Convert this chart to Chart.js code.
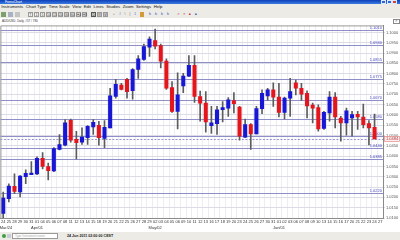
<!DOCTYPE html>
<html>
<head>
<meta charset="utf-8">
<title>AUD/USD Daily</title>
<script src="https://cdn.jsdelivr.net/npm/chart.js@4.4.1/dist/chart.umd.min.js"></script>
<style>
  html, body { margin: 0; padding: 0; }
  body { width: 400px; height: 240px; overflow: hidden; position: relative; background: #ecebe6; font-family: "Liberation Sans", Arial, sans-serif; }
  .row { position: absolute; left: 0; width: 400px; white-space: nowrap; }
  #title { top: 0; height: 4px; background: linear-gradient(#0b3fb8, #3d7be2); color: #fff; font-size: 3.4px; line-height: 4px; }
  #title span { margin-left: 5px; }
  .win { position: absolute; top: 0.4px; width: 5px; height: 3.2px; border: 0.4px solid #dfe8ff; box-sizing: border-box; background: #2f66d0; }
  #menu { top: 4px; height: 6px; font-size: 4.2px; line-height: 6px; color: #111; }
  #menu span { margin: 0 1.3px; }
  #tools { top: 10px; height: 8px; border-bottom: 0.5px solid #c8c8c0; }
  #tools i, #tools b { position: absolute; top: 1.5px; height: 5px; box-sizing: border-box; font-style: normal; font-weight: normal; font-size: 3px; line-height: 5px; text-align: center; color: #222; }
  #tools b { width: 5px; border: 0.4px solid #9a9a9a; background: #f4f4f0; }
  #tools b.on { border-color: #555; background: #d6d6d0; }
  #panel { position: absolute; left: 0; top: 18px; width: 400px; height: 214px; background: #fff; }
  #info { position: absolute; left: 2px; top: 0.5px; font-size: 3px; color: #333; }
  #closebox { position: absolute; left: 393px; top: 0.5px; width: 5px; height: 3.5px; border: 0.4px solid #888; font-size: 3px; line-height: 3.5px; text-align: center; color: #555; }
  #wrap { position: absolute; left: 0; top: 4px; width: 400px; height: 211px; }
  #status { top: 232px; height: 8px; background: #ecebe6; font-size: 3.6px; line-height: 8px; }
  #dot { position: absolute; left: 1.5px; top: 2px; width: 4px; height: 4px; border-radius: 50%; background: #3aa040; }
  #ico { position: absolute; left: 7px; top: 2px; width: 4px; height: 4px; background: #c8ccd8; }
  #search { position: absolute; left: 12px; top: 1.2px; width: 46px; height: 5.6px; background: #fff; border: 0.4px solid #9a9a9a; box-sizing: border-box; color: #aaa; font-size: 3px; line-height: 5px; padding-left: 2px; }
  #when { position: absolute; left: 67px; top: 0; color: #222; font-weight: bold; }
</style>
</head>
<body>
<div id="title" class="row"><span>ForexChart</span>
  <div class="win" style="left:381px"></div><div class="win" style="left:386.5px"></div><div class="win" style="left:392px;background:#d8452c"></div>
</div>
<div id="menu" class="row">
  <span>Instruments</span><span>Chart Type</span><span>Time Scale</span><span>View</span><span>Edit</span><span>Lines</span><span>Studies</span><span>Zoom</span><span>Settings</span><span>Help</span>
</div>
<div id="tools" class="row">
  <i style="left:1px;width:5px;background:#7da06a"></i>
  <i style="left:8px;width:5px;background:#a8b2c2"></i>
  <i style="left:15px;width:5px;background:#c4c4c4"></i>
  <b style="left:28px">T</b><b style="left:34px">1</b><b style="left:40px">5</b><b style="left:46px">10</b>
  <b style="left:52px">15</b><b style="left:58px">20</b><b style="left:64px">30</b><b style="left:70px">60</b>
  <b style="left:76px">H4</b><b style="left:82px">H8</b><b class="on" style="left:91px">D</b><b style="left:97px">W</b><b style="left:103px">M</b>
  <i style="left:112px;width:4px;color:#555">+</i>
  <i style="left:118px;width:4px;color:#2a50c0">#</i>
  <i style="left:123px;width:4px;color:#444">\</i>
  <i style="left:128px;width:4px;color:#444">|</i>
  <i style="left:133px;width:4px;color:#2a50c0">1</i>
  <i style="left:140px;width:4px;background:#d29a3a"></i>
  <i style="left:148px;width:4px;color:#2a50c0">&#x42C;</i>
  <i style="left:154px;width:4px;color:#2a50c0">&#x42C;</i>
  <i style="left:160px;width:4px;color:#2a50c0">&#x42C;</i>
  <i style="left:166px;width:4px;color:#2a50c0">&#x42C;</i>
  <i style="left:176px;width:4px;color:#c02020">&#x2197;</i>
  <i style="left:182px;width:4px;color:#c02020">&#x2715;</i>
  <i style="left:188px;width:4px;color:#c02020">&#x25A0;</i>
  <i style="left:194px;width:4px;color:#2a50c0">&#x25A0;</i>
</div>
<div id="panel">
  <div id="info">AUD/USD, Daily, #57 / 780</div>
  <div id="closebox">&#x2715;</div>
  <div id="wrap"><canvas id="chart" width="400" height="211"></canvas></div>
</div>
<div id="status" class="row">
  <div id="dot"></div><div id="ico"></div>
  <div id="search">Type Instrument name</div>
  <div id="when">24 Jun 2011 02:00:00 CEST</div>
</div>

<script>
// AUD/USD daily candles, 24 Mar - 24 Jun 2011 (last slot is the empty next day)
const dateLabels = ['24','25','28','29','30','31','01','04','05','06','07','08','11','12','13','14','15','18','19','20','21','22','25','26','27','28','29',
  '02','03','04','05','06','09','10','11','12','13','16','17','18','19','20','23','24','25','26','27','30','31',
  '01','02','03','06','07','08','09','10','13','14','15','16','17','20','21','22','23','24','27'];
const monthLabels = ['Mar/24', 'Apr/01', 'May/02', 'Jun/01'];
const monthIndex = [0, 6, 27, 49];

const opens = [1.0122,1.0194,1.0253,1.0226,1.0301,1.0310,1.0314,1.0389,1.0349,1.0328,
  1.0433,1.0453,1.0574,1.0481,1.0468,1.0489,1.0542,1.0550,1.0486,1.0537,
  1.0689,1.0745,1.0772,1.0717,1.0820,1.0869,1.0928,1.0960,1.0936,1.0861,
  1.0733,1.0617,1.0740,1.0788,1.0840,1.0689,1.0657,1.0548,1.0558,1.0625,
  1.0633,1.0670,1.0638,1.0492,1.0553,1.0508,1.0630,1.0692,1.0721,1.0686,
  1.0612,1.0681,1.0756,1.0729,1.0705,1.0647,1.0636,1.0534,1.0609,1.0686,
  1.0585,1.0561,1.0585,1.0603,1.0590,1.0558,1.0540];
const highs = [1.0226,1.0266,1.0314,1.0306,1.0334,1.0373,1.0397,1.0417,1.0366,1.0441,
  1.0505,1.0577,1.0580,1.0520,1.0537,1.0548,1.0577,1.0569,1.0572,1.0729,
  1.0772,1.0753,1.0777,1.0824,1.0888,1.0944,1.0979,1.1016,1.0944,1.0872,
  1.0761,1.0804,1.0801,1.0888,1.0888,1.0716,1.0713,1.0641,1.0641,1.0665,
  1.0684,1.0708,1.0641,1.0580,1.0558,1.0641,1.0721,1.0729,1.0756,1.0753,
  1.0686,1.0777,1.0769,1.0753,1.0717,1.0657,1.0649,1.0617,1.0713,1.0708,
  1.0593,1.0633,1.0617,1.0617,1.0652,1.0572,1.0604];
const lows = [1.0101,1.0178,1.0218,1.0202,1.0266,1.0310,1.0310,1.0338,1.0285,1.0325,
  1.0430,1.0449,1.0468,1.0386,1.0457,1.0457,1.0505,1.0453,1.0441,1.0537,
  1.0681,1.0721,1.0681,1.0676,1.0777,1.0864,1.0884,1.0920,1.0828,1.0724,
  1.0612,1.0532,1.0708,1.0785,1.0660,1.0569,1.0516,1.0510,1.0505,1.0566,
  1.0593,1.0609,1.0478,1.0489,1.0433,1.0508,1.0606,1.0670,1.0641,1.0590,
  1.0580,1.0593,1.0697,1.0670,1.0585,1.0561,1.0521,1.0529,1.0569,1.0537,
  1.0473,1.0502,1.0497,1.0529,1.0537,1.0454,1.0484];
const closes = [1.0197,1.0255,1.0229,1.0303,1.0317,1.0314,1.0389,1.0350,1.0330,1.0437,
  1.0456,1.0561,1.0478,1.0465,1.0492,1.0545,1.0564,1.0489,1.0540,1.0692,
  1.0748,1.0724,1.0713,1.0820,1.0872,1.0931,1.0968,1.0933,1.0861,1.0729,
  1.0617,1.0697,1.0788,1.0840,1.0689,1.0657,1.0566,1.0561,1.0625,1.0636,
  1.0673,1.0654,1.0497,1.0553,1.0508,1.0631,1.0705,1.0721,1.0686,1.0612,
  1.0682,1.0713,1.0729,1.0701,1.0644,1.0633,1.0532,1.0612,1.0686,1.0590,
  1.0561,1.0620,1.0601,1.0590,1.0553,1.0537,1.0484];

// horizontal support / resistance lines drawn on the chart
const levelLines = [1.1010, 1.0940, 1.0855, 1.0775, 1.0670, 1.0580, 1.0500, 1.0440, 1.0385, 1.0220];
// price axis ticks
const priceTicks = [1.0100,1.0150,1.0200,1.0250,1.0300,1.0350,1.0400,1.0450,1.0500,1.0550,
  1.0600,1.0650,1.0700,1.0750,1.0800,1.0850,1.0900,1.0950,1.1000];

const UP = '#1717d4';
const DOWN = '#e3151d';
const FONT = '"Liberation Sans", Arial, sans-serif';

const bodies = opens.map((o, i) => [o, closes[i]]);
const wicks = lows.map((l, i) => [l, highs[i]]);
const bodyColors = opens.map((o, i) => closes[i] >= o ? UP : DOWN);

// level lines, last price line, frame and month captions
const overlay = {
    id: 'overlay',
    beforeDatasetsDraw(chart) {
        const { ctx, chartArea: a, scales: { y } } = chart;
        ctx.save();
        ctx.font = '4px ' + FONT;
        ctx.textAlign = 'right';
        ctx.textBaseline = 'bottom';
        levelLines.forEach(v => {
            const py = Math.round(y.getPixelForValue(v)) + 0.5;
            ctx.strokeStyle = '#8e8ec8';
            ctx.lineWidth = 1.2;
            ctx.beginPath();
            ctx.moveTo(a.left, py);
            ctx.lineTo(a.right, py);
            ctx.stroke();
            ctx.fillStyle = '#4848c0';
            ctx.fillText(v.toFixed(4), a.right - 1, py - 0.6);
        });
        const ly = Math.round(y.getPixelForValue(closes[closes.length - 1])) + 0.5;
        ctx.setLineDash([2, 1.5]);
        ctx.strokeStyle = '#7c7cc4';
        ctx.lineWidth = 0.8;
        ctx.beginPath();
        ctx.moveTo(a.left, ly);
        ctx.lineTo(a.right, ly);
        ctx.stroke();
        ctx.restore();
    },
    afterDraw(chart) {
        const { ctx, chartArea: a, scales: { x, y } } = chart;
        ctx.save();
        ctx.strokeStyle = '#9a9a9a';
        ctx.lineWidth = 1;
        ctx.beginPath();
        ctx.moveTo(a.left + 0.5, a.bottom);
        ctx.lineTo(a.left + 0.5, a.top + 0.5);
        ctx.lineTo(a.right, a.top + 0.5);
        ctx.stroke();

        ctx.font = '4px ' + FONT;
        ctx.fillStyle = '#333';
        ctx.textAlign = 'center';
        ctx.textBaseline = 'middle';
        monthIndex.forEach((idx, k) => {
            const px = Math.max(x.getPixelForValue(idx), 6);
            ctx.fillText(monthLabels[k], px, a.bottom + 9.5);
        });

        // current price tag on the axis
        const last = closes[closes.length - 1];
        const ly = y.getPixelForValue(last);
        ctx.fillStyle = '#fdeeee';
        ctx.strokeStyle = '#de7a7a';
        ctx.lineWidth = 0.6;
        ctx.fillRect(a.right + 1.5, ly - 2.5, 15, 5);
        ctx.strokeRect(a.right + 1.5, ly - 2.5, 15, 5);
        ctx.fillStyle = '#b03030';
        ctx.textAlign = 'left';
        ctx.fillText(last.toFixed(4), a.right + 3, ly + 0.2);
        ctx.restore();
    }
};

new Chart(document.getElementById('chart'), {
    type: 'bar',
    data: {
        labels: dateLabels,
        datasets: [{
            label: 'Range',
            data: wicks,
            backgroundColor: '#5c5c5c',
            barThickness: 1,
            grouped: false,
            order: 2
        }, {
            label: 'Body',
            data: bodies,
            backgroundColor: bodyColors,
            barThickness: 3.4,
            minBarLength: 1.5,
            grouped: false,
            order: 1
        }]
    },
    options: {
        responsive: false,
        animation: false,
        events: [],
        layout: { padding: { top: 1, left: 0, right: 0, bottom: 0 } },
        plugins: {
            legend: { display: false },
            tooltip: { enabled: false }
        },
        scales: {
            x: {
                offset: true,
                grid: { offset: true, color: '#ececf2', drawTicks: false },
                border: { color: '#8a8a8a' },
                ticks: {
                    autoSkip: false,
                    maxRotation: 0,
                    minRotation: 0,
                    padding: 1,
                    color: '#333',
                    font: { family: FONT, size: 4 }
                },
                afterFit: s => { s.height = 15; }
            },
            y: {
                position: 'right',
                min: 1.0100,
                max: 1.1034,
                afterBuildTicks: s => { s.ticks = priceTicks.map(v => ({ value: v })); },
                grid: { color: '#dcdce6', tickLength: 2 },
                border: { color: '#8a8a8a' },
                ticks: {
                    padding: 1,
                    color: '#555',
                    font: { family: FONT, size: 4 },
                    callback: v => Number(v).toFixed(4)
                },
                afterFit: s => { s.width = 17; }
            }
        }
    },
    plugins: [overlay]
});
</script>
</body>
</html>
